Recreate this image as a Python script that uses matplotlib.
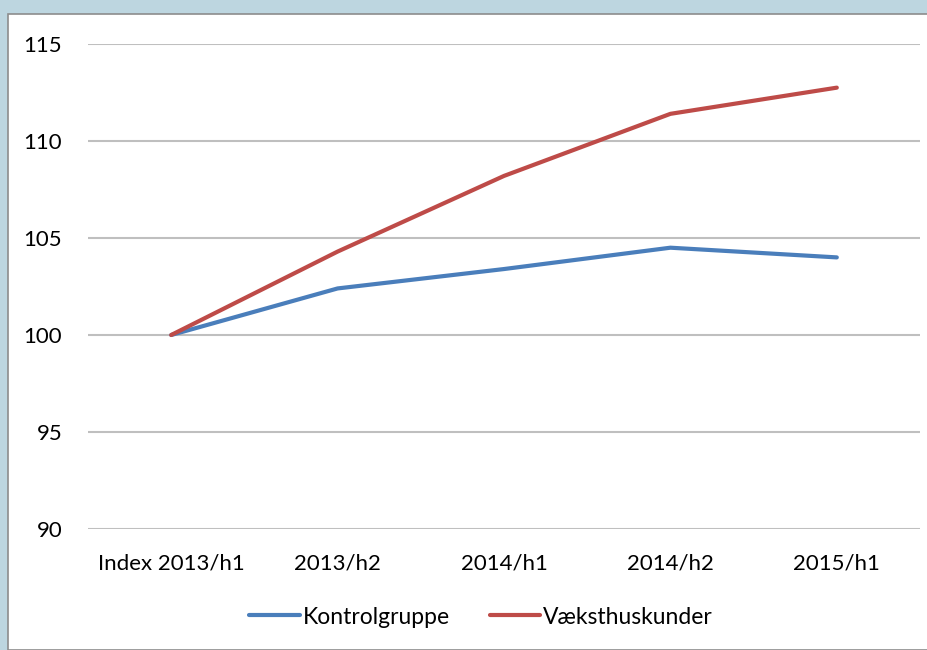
import numpy as np
import matplotlib.pyplot as plt
from matplotlib.patches import Rectangle

categories = ["Index 2013/h1", "2013/h2", "2014/h1", "2014/h2", "2015/h1"]
kontrol = [100, 102.4, 103.4, 104.5, 104.0]
vaeksthus = [100, 104.3, 108.2, 111.4, 112.75]
yticks = [90, 95, 100, 105, 110, 115]

plt.rcParams['font.family'] = ['Lato', 'DejaVu Sans']

W, H = 927, 650
fig = plt.figure(figsize=(W / 100, H / 100), dpi=100)
fig.patch.set_facecolor('#BDD6E0')

# white chart area with thin grey border
panel = Rectangle((8 / W, 0), 1.0, 1 - 14 / H, transform=fig.transFigure,
                  facecolor='white', edgecolor='#8C8C8C', linewidth=1.2, zorder=-5)
fig.patches.append(panel)

ax = fig.add_axes([88 / W, 1 - 529 / H, (920 - 88) / W, (529 - 44) / H])
ax.set_facecolor('none')
ax.set_zorder(2)

x = np.arange(len(categories))
l1, = ax.plot(x, kontrol, color='#4A7EBB', lw=3.0, solid_capstyle='round', label='Kontrolgruppe')
l2, = ax.plot(x, vaeksthus, color='#BE4B48', lw=3.0, solid_capstyle='round', label='Væksthuskunder')

ax.set_xlim(-0.5, len(categories) - 0.5)
ax.set_ylim(90, 115)
ax.set_yticks(yticks)
ax.set_yticklabels([str(v) for v in yticks], fontsize=16)
ax.set_xticks(x)
ax.set_xticklabels(categories, fontsize=16)
ax.yaxis.grid(True, color='#BFBFBF', lw=1.5)
ax.set_axisbelow(True)
for s in ax.spines.values():
    s.set_visible(False)
ax.tick_params(length=0)
ax.tick_params(axis='y', pad=18.5)
ax.tick_params(axis='x', pad=18)

fig.legend(handles=[l1, l2], loc='center', bbox_to_anchor=(481 / W, 1 - 617 / H),
           ncol=2, frameon=False, fontsize=16.5, handlelength=2.2, handletextpad=0.13,
           columnspacing=1.75)

fig.savefig('out.png', dpi=100, facecolor=fig.get_facecolor())
